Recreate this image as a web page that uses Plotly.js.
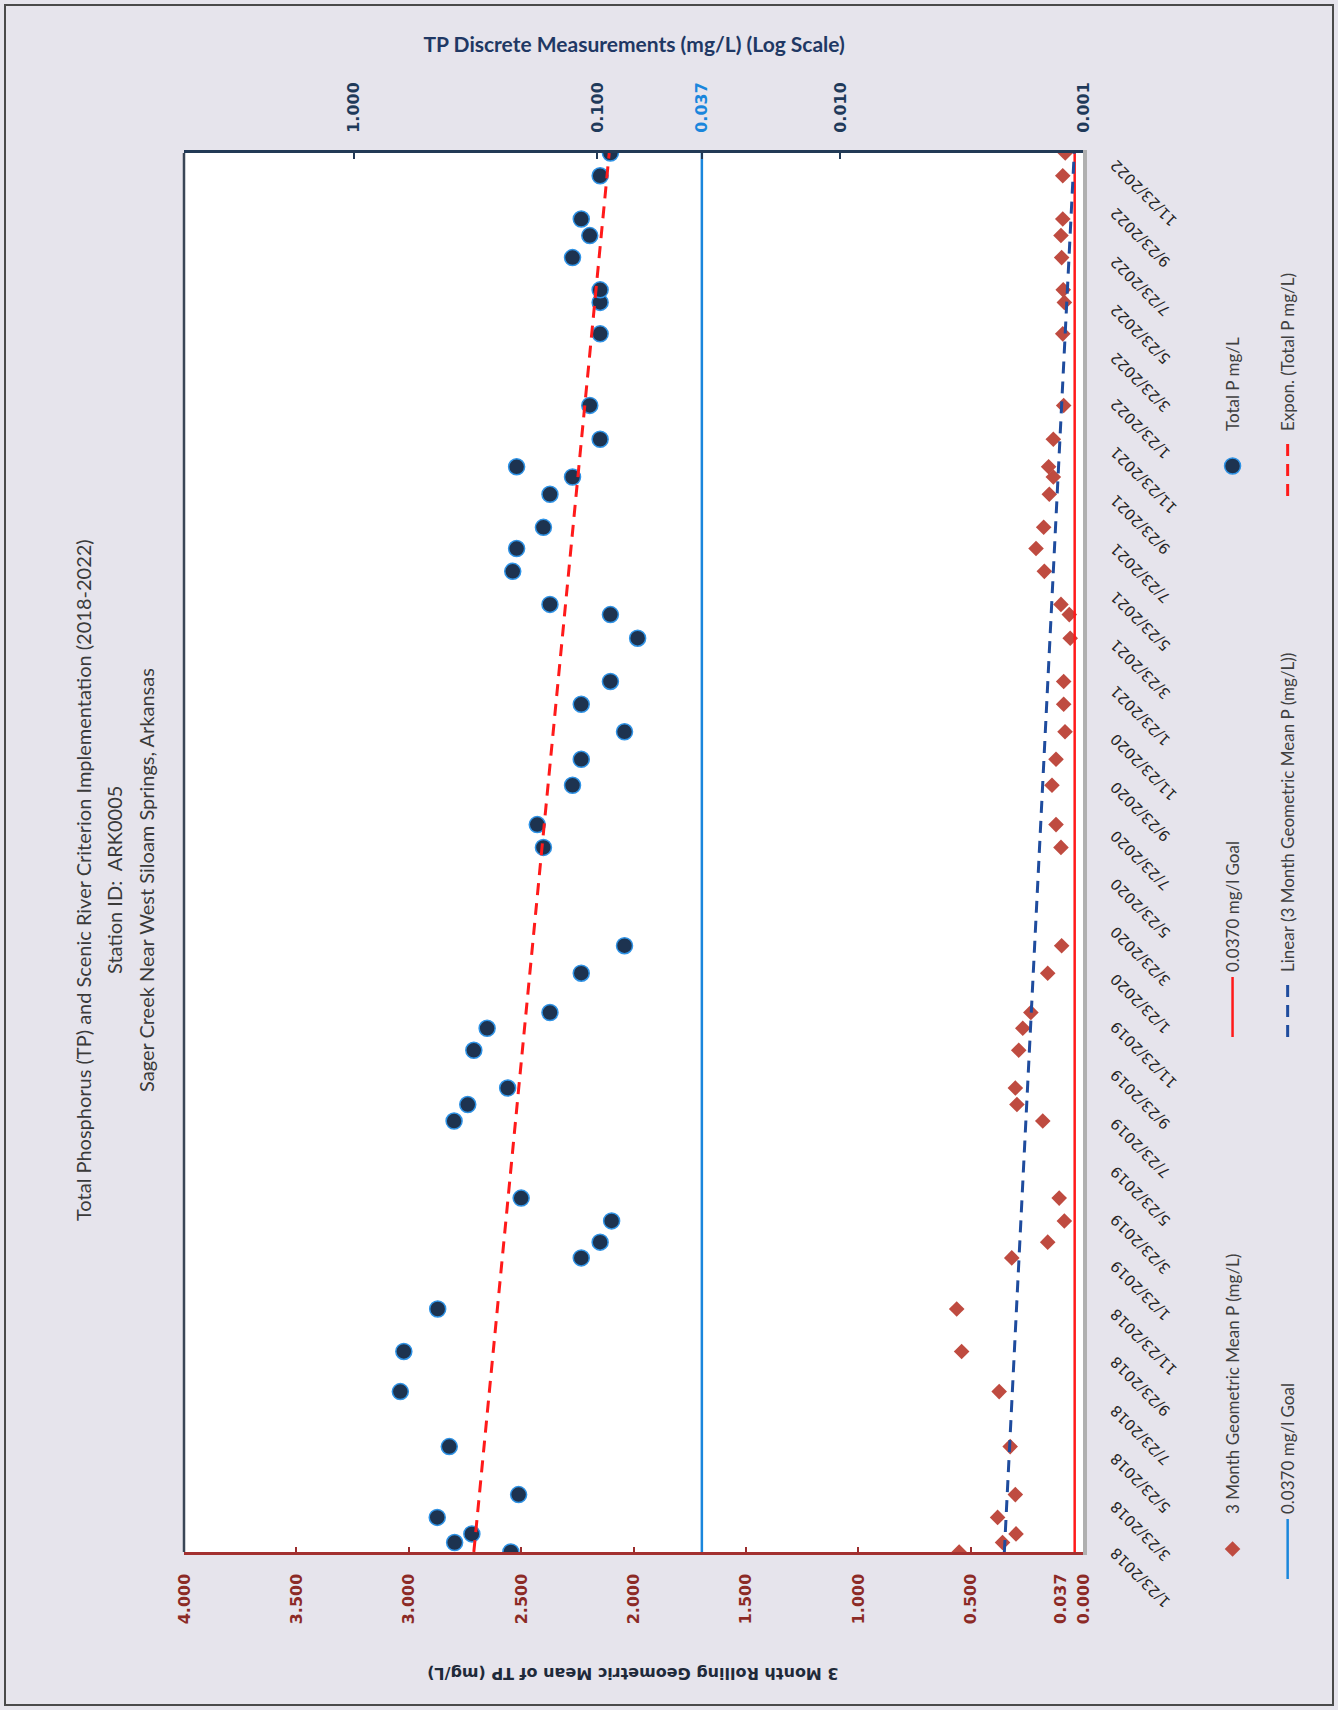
<!DOCTYPE html>
<html>
<head>
<meta charset="utf-8">
<script src="https://cdn.plot.ly/plotly-3.0.1.min.js"></script>
<style>
  html, body { margin:0; padding:0; width:1338px; height:1710px; overflow:hidden; background:#e6e4ec; }
  /* The chart is laid out landscape (1710 x 1338) and turned a quarter turn onto the portrait page */
  #chart { position:absolute; left:0; top:0; width:1710px; height:1338px;
           transform-origin:0 0; transform:translate(0px,1710px) rotate(-90deg); }
  #frame { position:absolute; left:4px; top:4px; width:1326px; height:1698px;
           border:2px solid #4a4a4a; pointer-events:none; }
</style>
</head>
<body>
<div id="chart"></div>
<div id="frame"></div>
<script>
// ---- Data -------------------------------------------------------------
// Sampling dates (shared by both series)
const sampleDates = [
  '2018-01-23','2018-02-04','2018-02-15','2018-03-08','2018-04-06','2018-06-06',
  '2018-08-15','2018-10-05','2018-11-28','2019-02-01','2019-02-21','2019-03-20',
  '2019-04-18','2019-07-25','2019-08-15','2019-09-05','2019-10-23','2019-11-20',
  '2019-12-10','2020-01-29','2020-03-04','2020-07-07','2020-08-05','2020-09-24',
  '2020-10-27','2020-12-01','2021-01-05','2021-02-03','2021-03-30','2021-04-29',
  '2021-05-12','2021-06-23','2021-07-22','2021-08-18','2021-09-29','2021-10-21',
  '2021-11-03','2021-12-08','2022-01-20','2022-04-21','2022-05-31','2022-06-16',
  '2022-07-27','2022-08-24','2022-09-14','2022-11-08','2022-12-07'
];

// Total P discrete measurements, mg/L (log axis)
const totalP = [
  0.226, 0.385, 0.327, 0.454, 0.210, 0.405,
  0.644, 0.623, 0.452, 0.116, 0.097, 0.087,
  0.205, 0.387, 0.340, 0.233, 0.321, 0.283,
  0.156, 0.116, 0.077, 0.166, 0.176, 0.126,
  0.116, 0.077, 0.116, 0.088, 0.068, 0.088,
  0.156, 0.222, 0.214, 0.166, 0.156, 0.126,
  0.214, 0.097, 0.107, 0.097, 0.097, 0.097,
  0.126, 0.107, 0.116, 0.097, 0.088
];

// 3 month rolling geometric mean of P, mg/L (linear axis)
const geoMean3Mo = [
  0.551, 0.358, 0.298, 0.380, 0.301, 0.324,
  0.373, 0.540, 0.562, 0.317, 0.157, 0.083,
  0.106, 0.179, 0.294, 0.301, 0.286, 0.268,
  0.232, 0.157, 0.095, 0.098, 0.120, 0.138,
  0.120, 0.080, 0.086, 0.086, 0.057, 0.061,
  0.098, 0.172, 0.209, 0.175, 0.150, 0.132,
  0.153, 0.132, 0.086, 0.090, 0.083, 0.088,
  0.095, 0.098, 0.090, 0.090, 0.079
];

// Criterion (goal) and fitted trend lines
const goalValue = 0.037;
const periodDates = ['2018-01-23', '2022-12-07'];
const goalLine = [0.037, 0.037];
const linearTrend = [0.350, 0.039];   // Linear (3 Month Geometric Mean P)
const exponTrend = [0.321, 0.089];    // Expon. (Total P)

// Axis ticks
const dateTicks = [
  '2018-01-23','2018-03-23','2018-05-23','2018-07-23','2018-09-23','2018-11-23',
  '2019-01-23','2019-03-23','2019-05-23','2019-07-23','2019-09-23','2019-11-23',
  '2020-01-23','2020-03-23','2020-05-23','2020-07-23','2020-09-23','2020-11-23',
  '2021-01-23','2021-03-23','2021-05-23','2021-07-23','2021-09-23','2021-11-23',
  '2022-01-23','2022-03-23','2022-05-23','2022-07-23','2022-09-23','2022-11-23'
];
const primaryTicks = [0, 0.5, 1, 1.5, 2, 2.5, 3, 3.5, 4];
const primaryTickText = ['0.000','0.500','1.000','1.500','2.000','2.500','3.000','3.500','4.000'];
const primaryMax = 4;
const logTicks = [0.001, 0.01, 0.037, 0.1, 1];
const logTickText = ['0.001', '0.010', '<span style="color:#1a86dc">0.037</span>', '0.100', '1.000'];
const logMin = 0.001, logMax = 5;

// Title and labels
const titleLines = [
  'Total Phosphorus (TP) and Scenic River Criterion Implementation (2018-2022)',
  'Station ID:  ARK0005',
  'Sager Creek Near West Siloam Springs, Arkansas'
];
const primaryTitle = '3 Month Rolling Geometric Mean of TP (mg/L)';
const secondaryTitle = 'TP Discrete Measurements (mg/L) (Log Scale)';

// ---- Layout geometry (landscape pixels) ---------------------------------
const W = 1710, H = 1338;
const M = { l: 158, r: 153, t: 184, b: 255 };
const plotW = W - M.l - M.r;
const plotH = H - M.t - M.b;
const px = x => (x - M.l) / plotW;          // pixel column -> paper x
const py = y => (H - M.b - y) / plotH;      // pixel row (from top) -> paper y
const cx = x => x / W;                      // pixel column -> container x
const cy = y => 1 - y / H;                  // pixel row -> container y

const DIAMOND = '#bf4b40';
const DOT_FILL = '#1d3350';
const DOT_EDGE = '#2f93e6';
const RED = '#ff1a1a';
const BLUE_GOAL = '#1a86dc';
const BLUE_TREND = '#1f4c9e';

const traces = [
  { type: 'scatter', mode: 'markers', name: '3 Month Geometric Mean P (mg/L)',
    x: sampleDates, y: geoMean3Mo, yaxis: 'y',
    marker: { symbol: 'diamond', size: 12, color: DIAMOND },
    legend: 'legend', legendgroup: 'g1' },
  { type: 'scatter', mode: 'lines', name: '0.0370 mg/l Goal',
    x: periodDates, y: goalLine, yaxis: 'y',
    line: { color: RED, width: 2.5 },
    legend: 'legend2', legendgroup: 'g2' },
  { type: 'scatter', mode: 'lines', name: 'Linear (3 Month Geometric Mean P (mg/L))',
    x: periodDates, y: linearTrend, yaxis: 'y',
    line: { color: BLUE_TREND, width: 3, dash: '12px,8px' },
    legend: 'legend2', legendgroup: 'g5' },
  { type: 'scatter', mode: 'markers', name: 'Total P mg/L',
    x: sampleDates, y: totalP, yaxis: 'y2',
    marker: { symbol: 'circle', size: 16, color: DOT_FILL, line: { color: DOT_EDGE, width: 1.5 } },
    legend: 'legend3', legendgroup: 'g3' },
  { type: 'scatter', mode: 'lines', name: '0.0370 mg/l Goal',
    x: periodDates, y: goalLine, yaxis: 'y2',
    line: { color: BLUE_GOAL, width: 2.5 },
    legend: 'legend', legendgroup: 'g4' },
  { type: 'scatter', mode: 'lines', name: 'Expon. (Total P mg/L)',
    x: periodDates, y: exponTrend, yaxis: 'y2',
    line: { color: RED, width: 3, dash: '12px,8px' },
    legend: 'legend3', legendgroup: 'g6' }
];

const legendBase = {
  orientation: 'v', xref: 'container', yref: 'container',
  xanchor: 'left', yanchor: 'top', bgcolor: 'rgba(0,0,0,0)', borderwidth: 0,
  font: { family: 'Lato, Open Sans, sans-serif', size: 17, color: '#404040' },
  itemwidth: 60, traceorder: 'grouped', tracegroupgap: 30
};

const titleFont = { family: 'Lato, Open Sans, sans-serif', size: 20, color: '#3a3a3a' };

const annotations = titleLines.map((t, i) => ({
  text: t, xref: 'paper', yref: 'paper', x: px(1710 - 880), y: py([83, 114, 146][i]),
  xanchor: 'center', yanchor: 'middle', showarrow: false, font: titleFont
}));

annotations.push({
  text: primaryTitle, xref: 'paper', yref: 'paper', x: px(37), y: 0.5,
  textangle: -90, xanchor: 'center', yanchor: 'middle', showarrow: false,
  font: { family: 'DejaVu Sans', size: 16, color: '#1f2a3a', weight: 'bold' }
});
annotations.push({
  text: secondaryTitle, xref: 'paper', yref: 'paper', x: px(1667), y: 0.5,
  textangle: 90, xanchor: 'center', yanchor: 'middle', showarrow: false,
  font: { family: 'Lato, Open Sans, sans-serif', size: 21, color: '#1f3864', weight: 'bold' }
});
// goal value marked on the primary axis
annotations.push({
  text: '0.037', xref: 'paper', yref: 'y', x: px(139), y: goalValue,
  xanchor: 'right', yanchor: 'middle', yshift: 14, showarrow: false,
  font: { family: 'DejaVu Sans', size: 16, color: '#8c2a26', weight: 'bold' }
});

const layout = {
  width: W, height: H,
  margin: { l: M.l, r: M.r, t: M.t, b: M.b, pad: 0, autoexpand: false },
  paper_bgcolor: '#e6e4ec', plot_bgcolor: '#ffffff',
  showlegend: true,
  xaxis: {
    type: 'date', range: periodDates, tickvals: dateTicks, tickformat: '%-m/%-d/%Y',
    tickangle: -45, ticks: '', showgrid: false, zeroline: false,
    showline: true, linecolor: '#b0b0b0', linewidth: 4,
    tickfont: { family: 'DejaVu Sans', size: 15, color: '#262626' },
    ticklabelstandoff: 14
  },
  yaxis: {
    range: [0, primaryMax], tickvals: primaryTicks, ticktext: primaryTickText,
    ticks: 'inside', ticklen: 5, tickwidth: 2, tickcolor: '#9b2d2d',
    showline: true, linecolor: '#a33030', linewidth: 2.5,
    showgrid: false, zeroline: false,
    tickfont: { family: 'DejaVu Sans', size: 16, color: '#8c2a26', weight: 'bold' },
    ticklabelstandoff: 16
  },
  yaxis2: {
    type: 'log', range: [Math.log10(logMin), Math.log10(logMax)],
    overlaying: 'y', side: 'right',
    tickvals: logTicks, ticktext: logTickText,
    ticks: 'inside', ticklen: 6, tickwidth: 2, tickcolor: '#223a56',
    showline: true, linecolor: '#223a56', linewidth: 3,
    showgrid: false, zeroline: false,
    tickfont: { family: 'DejaVu Sans', size: 16, color: '#1f3a5a', weight: 'bold' },
    ticklabelstandoff: 14
  },
  legend:  Object.assign({}, legendBase, { x: cx(126), y: cy(1215) }),
  legend2: Object.assign({}, legendBase, { x: cx(668), y: cy(1215) }),
  legend3: Object.assign({}, legendBase, { x: cx(1209), y: cy(1215) }),
  shapes: [
    { type: 'line', xref: 'paper', yref: 'paper', x0: 0, x1: 1, y0: 1, y1: 1,
      line: { color: '#3a4656', width: 2.5 } }
  ],
  annotations: annotations
};

Plotly.newPlot('chart', traces, layout, { staticPlot: true, displayModeBar: false });
</script>
</body>
</html>
